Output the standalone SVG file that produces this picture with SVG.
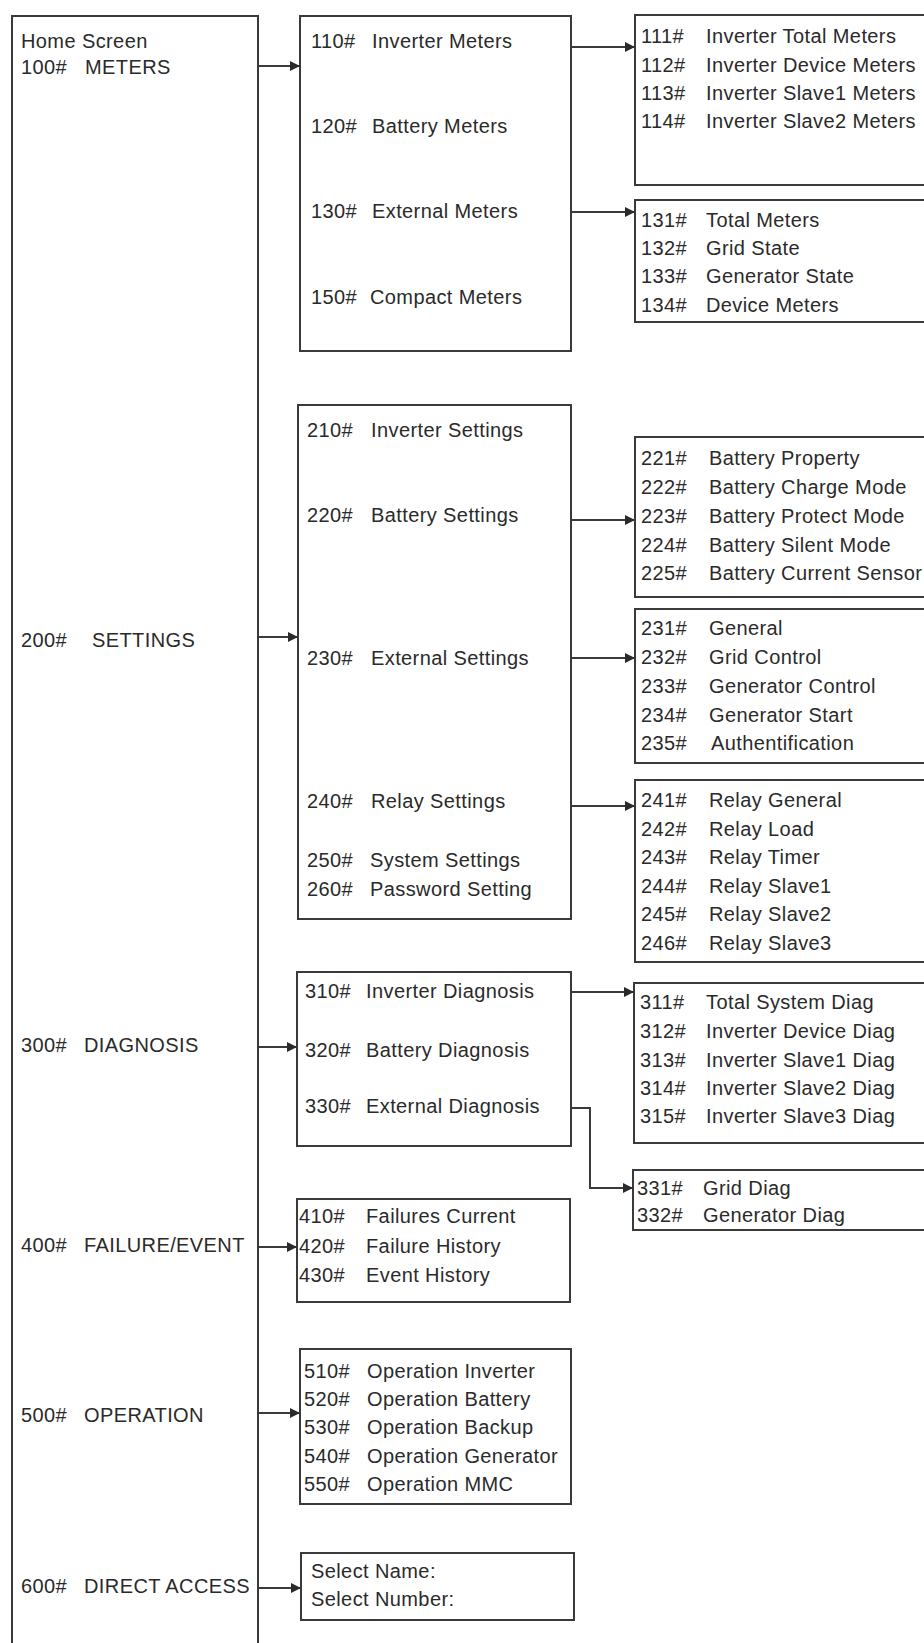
<svg xmlns="http://www.w3.org/2000/svg" width="924" height="1643" viewBox="0 0 924 1643">
<defs>
<style>
.box{fill:#fff;stroke:#3a3a3a;stroke-width:2}
.t{font-family:"Liberation Sans",Arial,sans-serif;font-size:20px;letter-spacing:0.4px;fill:#2a2a2a}
.c{fill:none;stroke:#3a3a3a;stroke-width:2}
</style>
<marker id="ah" viewBox="0 0 10 10" refX="10" refY="5" markerWidth="5" markerHeight="5" orient="auto" markerUnits="strokeWidth">
<path d="M0,0 L10,5 L0,10 z" fill="#2a2a2a"/>
</marker>
</defs>
<rect width="924" height="1643" fill="#fff"/>

<g id="home">
<rect class="box" x="12" y="16" width="246" height="1700"/>
<text class="t" x="21" y="48">Home Screen</text>
<text class="t" x="21" y="74">100#<tspan x="85">METERS</tspan></text>
<text class="t" x="21" y="647">200#<tspan x="92">SETTINGS</tspan></text>
<text class="t" x="21" y="1052">300#<tspan x="84">DIAGNOSIS</tspan></text>
<text class="t" x="21" y="1252">400#<tspan x="84">FAILURE/EVENT</tspan></text>
<text class="t" x="21" y="1422">500#<tspan x="84">OPERATION</tspan></text>
<text class="t" x="21" y="1593">600#<tspan x="84">DIRECT ACCESS</tspan></text>
</g>

<g id="n100">
<rect class="box" x="300" y="16" width="271" height="335"/>
<text class="t" x="311" y="48">110#<tspan x="372">Inverter Meters</tspan></text>
<text class="t" x="311" y="133">120#<tspan x="372">Battery Meters</tspan></text>
<text class="t" x="311" y="218">130#<tspan x="372">External Meters</tspan></text>
<text class="t" x="311" y="304">150#<tspan x="370">Compact Meters</tspan></text>
</g>

<g id="n110">
<rect class="box" x="635" y="15" width="300" height="170"/>
<text class="t" x="641" y="43">111#<tspan x="706">Inverter Total Meters</tspan></text>
<text class="t" x="641" y="72">112#<tspan x="706">Inverter Device Meters</tspan></text>
<text class="t" x="641" y="100">113#<tspan x="706">Inverter Slave1 Meters</tspan></text>
<text class="t" x="641" y="128">114#<tspan x="706">Inverter Slave2 Meters</tspan></text>
</g>

<g id="n130">
<rect class="box" x="635" y="200" width="300" height="122"/>
<text class="t" x="641" y="227">131#<tspan x="706">Total Meters</tspan></text>
<text class="t" x="641" y="255">132#<tspan x="706">Grid State</tspan></text>
<text class="t" x="641" y="283">133#<tspan x="706">Generator State</tspan></text>
<text class="t" x="641" y="312">134#<tspan x="706">Device Meters</tspan></text>
</g>

<g id="n200">
<rect class="box" x="298" y="405" width="273" height="514"/>
<text class="t" x="307" y="437">210#<tspan x="371">Inverter Settings</tspan></text>
<text class="t" x="307" y="522">220#<tspan x="371">Battery Settings</tspan></text>
<text class="t" x="307" y="665">230#<tspan x="371">External  Settings</tspan></text>
<text class="t" x="307" y="808">240#<tspan x="371">Relay Settings</tspan></text>
<text class="t" x="307" y="867">250#<tspan x="370">System Settings</tspan></text>
<text class="t" x="307" y="896">260#<tspan x="370">Password Setting</tspan></text>
</g>

<g id="n220">
<rect class="box" x="635" y="437" width="300" height="160"/>
<text class="t" x="641" y="465">221#<tspan x="709">Battery Property</tspan></text>
<text class="t" x="641" y="494">222#<tspan x="709">Battery Charge Mode</tspan></text>
<text class="t" x="641" y="523">223#<tspan x="709">Battery Protect Mode</tspan></text>
<text class="t" x="641" y="552">224#<tspan x="709">Battery Silent Mode</tspan></text>
<text class="t" x="641" y="580">225#<tspan x="709">Battery Current Sensor</tspan></text>
</g>

<g id="n230">
<rect class="box" x="635" y="609" width="300" height="154"/>
<text class="t" x="641" y="635">231#<tspan x="709">General</tspan></text>
<text class="t" x="641" y="664">232#<tspan x="709">Grid Control</tspan></text>
<text class="t" x="641" y="693">233#<tspan x="709">Generator Control</tspan></text>
<text class="t" x="641" y="722">234#<tspan x="709">Generator Start</tspan></text>
<text class="t" x="641" y="750">235#<tspan x="711">Authentification</tspan></text>
</g>

<g id="n240">
<rect class="box" x="635" y="780" width="300" height="182"/>
<text class="t" x="641" y="807">241#<tspan x="709">Relay General</tspan></text>
<text class="t" x="641" y="836">242#<tspan x="709">Relay Load</tspan></text>
<text class="t" x="641" y="864">243#<tspan x="709">Relay Timer</tspan></text>
<text class="t" x="641" y="893">244#<tspan x="709">Relay Slave1</tspan></text>
<text class="t" x="641" y="921">245#<tspan x="709">Relay Slave2</tspan></text>
<text class="t" x="641" y="950">246#<tspan x="709">Relay Slave3</tspan></text>
</g>

<g id="n300">
<rect class="box" x="297" y="972" width="274" height="174"/>
<text class="t" x="305" y="998">310#<tspan x="366">Inverter Diagnosis</tspan></text>
<text class="t" x="305" y="1057">320#<tspan x="366">Battery Diagnosis</tspan></text>
<text class="t" x="305" y="1113">330#<tspan x="366">External Diagnosis</tspan></text>
</g>

<g id="n310">
<rect class="box" x="634" y="983" width="300" height="160"/>
<text class="t" x="640" y="1009">311#<tspan x="706">Total System Diag</tspan></text>
<text class="t" x="640" y="1038">312#<tspan x="706">Inverter Device Diag</tspan></text>
<text class="t" x="640" y="1067">313#<tspan x="706">Inverter Slave1 Diag</tspan></text>
<text class="t" x="640" y="1095">314#<tspan x="706">Inverter Slave2  Diag</tspan></text>
<text class="t" x="640" y="1123">315#<tspan x="706">Inverter Slave3  Diag</tspan></text>
</g>

<g id="n330">
<rect class="box" x="633" y="1170" width="300" height="60"/>
<text class="t" x="637" y="1195">331#<tspan x="703">Grid Diag</tspan></text>
<text class="t" x="637" y="1222">332#<tspan x="703">Generator Diag</tspan></text>
</g>

<g id="n400">
<rect class="box" x="297" y="1199" width="273" height="103"/>
<text class="t" x="299" y="1223">410#<tspan x="366">Failures Current</tspan></text>
<text class="t" x="299" y="1253">420#<tspan x="366">Failure History</tspan></text>
<text class="t" x="299" y="1282">430#<tspan x="366">Event History</tspan></text>
</g>

<g id="n500">
<rect class="box" x="300" y="1349" width="271" height="155"/>
<text class="t" x="304" y="1378">510#<tspan x="367">Operation Inverter</tspan></text>
<text class="t" x="304" y="1406">520#<tspan x="367">Operation Battery</tspan></text>
<text class="t" x="304" y="1434">530#<tspan x="367">Operation Backup</tspan></text>
<text class="t" x="304" y="1463">540#<tspan x="367">Operation Generator</tspan></text>
<text class="t" x="304" y="1491">550#<tspan x="367">Operation MMC</tspan></text>
</g>

<g id="n600">
<rect class="box" x="301" y="1553" width="273" height="67"/>
<text class="t" x="311" y="1578">Select Name:</text>
<text class="t" x="311" y="1606">Select Number:</text>
</g>

<g id="connectors">
<path class="c" d="M258,66 H300" marker-end="url(#ah)"/>
<path class="c" d="M571,47 H635" marker-end="url(#ah)"/>
<path class="c" d="M571,212 H635" marker-end="url(#ah)"/>
<path class="c" d="M258,637 H298" marker-end="url(#ah)"/>
<path class="c" d="M571,520 H635" marker-end="url(#ah)"/>
<path class="c" d="M571,658 H635" marker-end="url(#ah)"/>
<path class="c" d="M571,806 H635" marker-end="url(#ah)"/>
<path class="c" d="M258,1047 H297" marker-end="url(#ah)"/>
<path class="c" d="M571,992 H634" marker-end="url(#ah)"/>
<path class="c" d="M571,1108 H590 V1188 H633" marker-end="url(#ah)"/>
<path class="c" d="M258,1247 H297" marker-end="url(#ah)"/>
<path class="c" d="M258,1413 H300" marker-end="url(#ah)"/>
<path class="c" d="M258,1588 H301" marker-end="url(#ah)"/>
</g>
</svg>
